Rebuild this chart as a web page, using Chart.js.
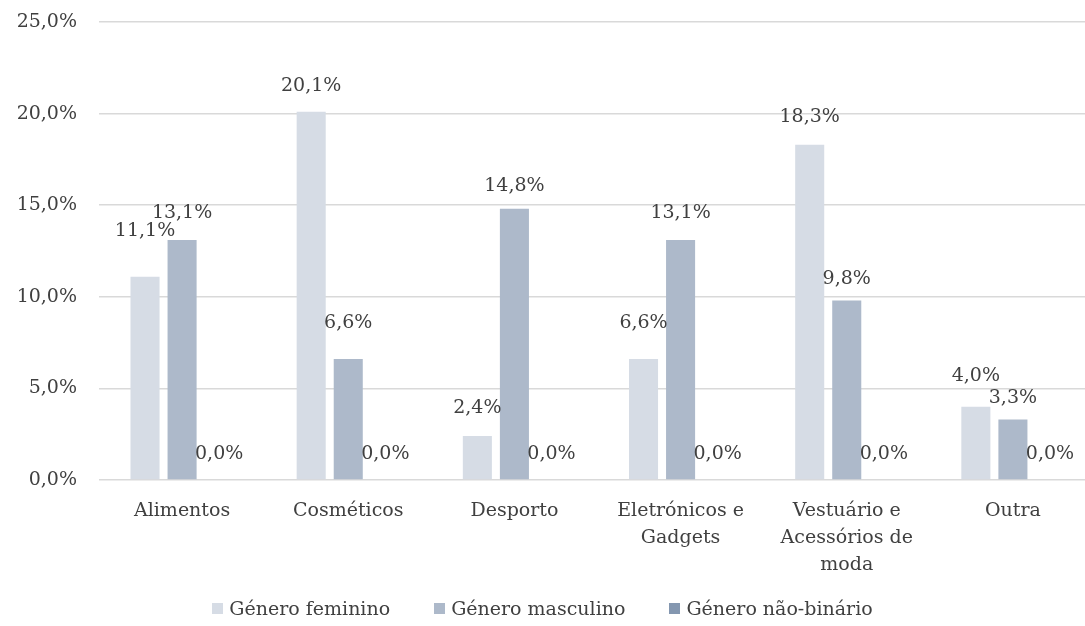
<!DOCTYPE html>
<html>
<head>
<meta charset="utf-8">
<script src="https://cdn.jsdelivr.net/npm/chart.js@4.4.1/dist/chart.umd.min.js"></script>
<style>
    html, body { margin: 0; padding: 0; background: #fff; overflow: hidden; }
    #wrap { width: 1096px; height: 626px; position: relative; }
    #legend {
        position: absolute; left: 0; top: 595px; width: 1085px;
        display: flex; justify-content: center; gap: 44px;
        font: 19px "DejaVu Serif", "Liberation Serif", serif; color: #404040;
        line-height: 26px;
    }
    #legend .item { display: flex; align-items: center; }
    #legend .box { width: 11px; height: 11px; margin-right: 6px; }
</style>
</head>
<body>
<div id="wrap"><canvas id="chart"></canvas><div id="legend"></div></div>
<script>
const categories = ['Alimentos', 'Cosméticos', 'Desporto', ['Eletrónicos e', 'Gadgets'], ['Vestuário e', 'Acessórios de', 'moda'], 'Outra'];
const seriesNames = ['Género feminino', 'Género masculino', 'Género não-binário'];
const feminino = [11.1, 20.1, 2.4, 6.6, 18.3, 4.0];
const masculino = [13.1, 6.6, 14.8, 13.1, 9.8, 3.3];
const naoBinario = [0, 0, 0, 0, 0, 0];
const yTicks = [0, 5, 10, 15, 20, 25];

const colors = ['#d6dce5', '#adb9ca', '#8497b0'];
const textColor = '#404040';
const fontFamily = '"DejaVu Serif", "Liberation Serif", serif';
const fontSize = 19;

// distancia (px) entre o topo da barra e o centro do rotulo, como no original
const labelLift = [
    [46, 26, 28, 36, 28, 31],
    [27, 36, 23, 27, 21, 21],
    [26, 26, 26, 26, 26, 26]
];

function pct(v) {
    return v.toFixed(1).replace('.', ',') + '%';
}

// rotulos de dados por cima das barras
const barLabels = {
    id: 'barLabels',
    afterDatasetsDraw(chart) {
        const ctx = chart.ctx;
        ctx.save();
        ctx.font = fontSize + 'px ' + fontFamily;
        ctx.fillStyle = textColor;
        ctx.textAlign = 'center';
        ctx.textBaseline = 'middle';
        chart.data.datasets.forEach((ds, i) => {
            chart.getDatasetMeta(i).data.forEach((bar, j) => {
                ctx.fillText(pct(ds.data[j]), bar.x, bar.y - labelLift[i][j]);
            });
        });
        ctx.restore();
    }
};

const ctx = document.getElementById('chart').getContext('2d');
const chart = new Chart(ctx, {
    type: 'bar',
    data: {
        labels: categories,
        datasets: [
            { label: seriesNames[0], data: feminino, backgroundColor: colors[0] },
            { label: seriesNames[1], data: masculino, backgroundColor: colors[1] },
            { label: seriesNames[2], data: naoBinario, backgroundColor: colors[2] }
        ]
    },
    options: {
        responsive: true,
        maintainAspectRatio: false,
        animation: false,
        datasets: {
            bar: { categoryPercentage: 0.669, barPercentage: 0.784 }
        },
        layout: { padding: { top: 22, left: 0, right: 0, bottom: 0 } },
        scales: {
            x: {
                grid: { display: false },
                border: { display: false },
                ticks: {
                    color: textColor,
                    font: { family: fontFamily, size: fontSize, lineHeight: 1.42 },
                    padding: 10,
                    maxRotation: 0,
                    autoSkip: false
                },
                afterFit: s => { s.height = 146; }
            },
            y: {
                min: 0,
                max: 25,
                afterBuildTicks: s => { s.ticks = yTicks.map(v => ({ value: v })); },
                grid: { color: '#d9d9d9', lineWidth: 1.5, drawTicks: false },
                border: { display: false },
                ticks: {
                    color: textColor,
                    font: { family: fontFamily, size: fontSize },
                    padding: 22,
                    callback: v => pct(v)
                },
                afterFit: s => {
                    s.width = 99;
                    s.paddingTop = 0;
                    s.paddingBottom = 0;
                }
            }
        },
        plugins: {
            legend: { display: false },
            tooltip: { enabled: false }
        }
    },
    plugins: [barLabels]
});

// legenda em HTML (mais espaço entre itens do que a do Chart.js)
const legendEl = document.getElementById('legend');
chart.data.datasets.forEach(ds => {
    const item = document.createElement('div');
    item.className = 'item';
    item.innerHTML = '<span class="box" style="background:' + ds.backgroundColor + '"></span>' + ds.label;
    legendEl.appendChild(item);
});
</script>
</body>
</html>
